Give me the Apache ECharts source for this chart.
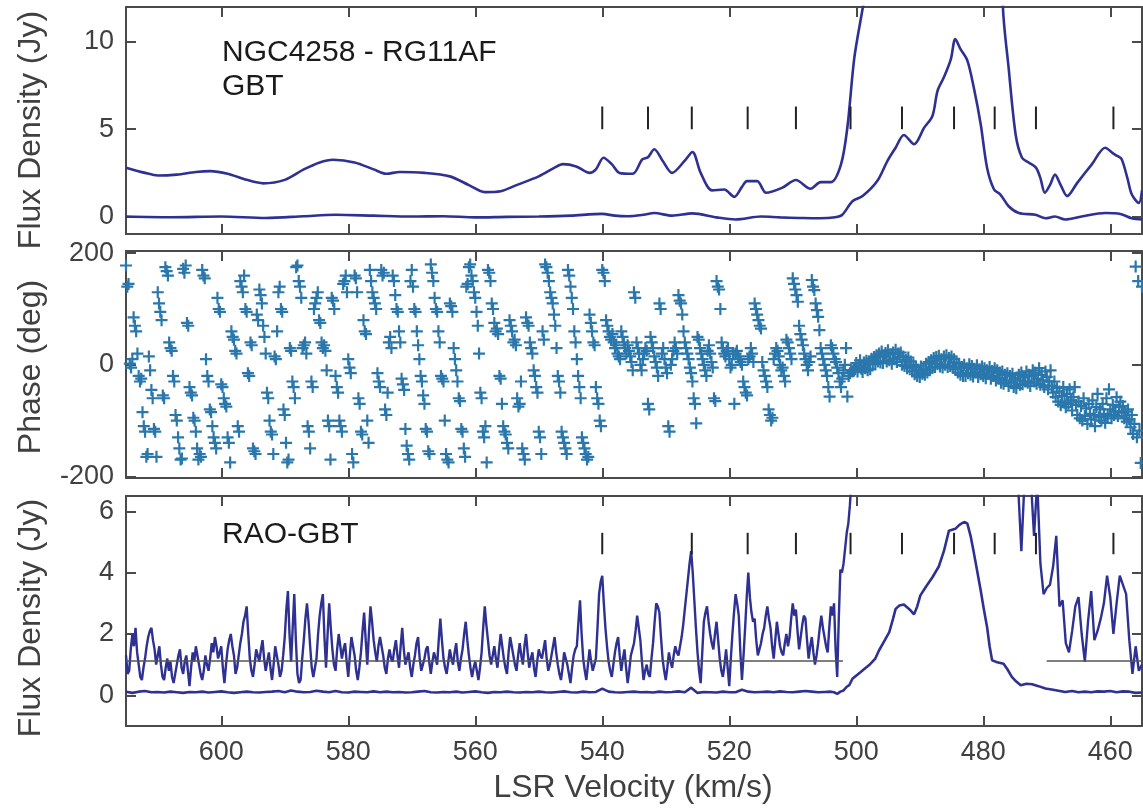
<!DOCTYPE html>
<html><head><meta charset="utf-8">
<script src="https://cdn.jsdelivr.net/npm/echarts@6/dist/echarts.min.js"></script>
<style>html,body{margin:0;padding:0;background:#fff}#c{width:1143px;height:809px}</style>
</head><body><div id="c"></div>
<script>
// ---------- DATA ----------
const X_TICKS = [460, 480, 500, 520, 540, 560, 580, 600];
const P1_Y_TICKS = [0, 5, 10];
const P2_Y_TICKS = [-200, 0, 200];
const P3_Y_TICKS = [0, 2, 4, 6];

// Panel 1 (GBT): upper (scaled) spectrum
const P1_UP_V = [615,612,610,607,604,601.7,599,596,593.4,590,587,584.5,582.4,579,576,574,571.9,568,564,561,558.5,556,553.5,550,547.5,546.2,544.1,542,541,539.8,538.5,537.3,535.2,533.7,532.8,531.8,530.5,529,527,525.8,524.5,522.7,520.8,519.2,518,517.2,515.6,514.2,511.7,509.5,507.2,505.6,504,502.4,501.4,500.3,499,498,496,494,492,490,488,486,484,482,480,478,476.9,476,474.9,473.9,472.8,471.7,471,470.3,469.5,468.7,467.8,466.8,465.2,462.9,460.8,459.5,458.9,458.2,457.3,456.6,455.5,455];
const P1_UP_Y = [2.8,2.5,2.35,2.4,2.55,2.6,2.45,2.1,1.9,2.1,2.7,3.1,3.25,3.1,2.7,2.45,2.55,2.5,2.3,1.8,1.4,1.45,1.8,2.3,2.8,3.0,2.87,2.5,2.7,3.37,3.0,2.5,2.45,3.27,3.4,3.85,3.2,2.5,3.2,3.7,2.5,1.5,1.55,1.13,1.7,2.03,2.03,1.36,1.64,2.09,1.59,1.97,1.97,2.99,5.1,9.1,11.9,14,20,30,40,50,60,70,80,70,55,30,12.0,8.5,4.7,3.37,3.08,2.8,2.2,1.36,1.8,2.4,1.8,1.17,1.93,2.99,3.94,3.6,3.47,3.28,2.2,1.26,0.78,1.5];
// Panel 1 (GBT): spectrum
const P1_LOW_V = [615,608,600,593,587,582,576,570,565,560,555,550,545,540,538,536,533.5,531.8,529,525.8,522,519,515,512,509,505.8,503.3,502.2,500.6,499,496.7,495.1,493.8,492.5,490.9,489.3,488,487.2,486.2,485.1,484.4,483.6,482.5,481.5,480.4,479.4,478.3,477.3,476,474.4,471.8,470.2,468.7,467.1,464.5,460.8,458.4,456.6,455];
const P1_LOW_Y = [0.0,-0.04,0.0,-0.08,0.02,0.1,0.05,0.0,0.02,-0.05,-0.02,0.0,0.05,0.15,0.05,0.02,0.1,0.2,0.05,0.18,-0.05,-0.17,0.0,-0.05,-0.08,-0.1,-0.04,0.1,0.88,1.17,2.03,3.18,3.94,4.67,4.14,5.09,5.76,7.2,7.97,9.02,10.17,9.6,8.93,7.4,5.29,2.8,1.55,1.26,0.59,0.2,0.1,-0.1,0.0,-0.17,0.0,0.2,0.15,-0.1,-0.17];
// Velocity markers
const P1_MARKS_V = [540,532.8,525.9,517.1,509.5,500.9,492.8,484.6,478.2,471.7,459.5];
const P1_MARK_RANGE = [5.0, 6.3];
const P3_MARKS_V = [540,525.9,517.1,509.5,500.9,492.8,484.6,478.2,471.7,459.5];
const P3_MARK_RANGE = [4.6, 5.3];

// Panel 2 phase (deg): channels from 615 km/s, 0.2 km/s apart
const P2_A_START = 615, P2_A_STEP = 0.2;
const P2_A = [
178,140,145,2,-5,10,85,70,60,20,-20,-30,-25,-85,-110,
-120,-165,-160,15,-10,-45,-60,-115,-120,-165,130,110,95,80,-55,
-60,175,168,160,40,30,25,-20,-30,-90,-100,-130,-150,-170,-168,
172,165,178,75,70,-40,-50,-55,-95,-100,-120,-150,-170,-160,-165,
170,160,155,10,-20,-30,-80,-85,-110,-130,-140,-150,120,100,95,
-35,-40,-60,-70,-75,-130,-140,-175,60,50,45,25,20,-110,-120,
150,140,130,160,100,95,-15,-20,40,35,-150,-155,-160,90,80,
135,125,110,70,50,20,-50,-60,-100,-120,-125,-160,15,10,60,
130,140,100,95,-80,-90,-140,-175,-170,30,25,-30,-40,-60,175,
178,150,140,120,30,35,40,20,-110,-120,-150,-30,-40,100,110,
120,130,80,75,40,30,35,25,-10,-100,-110,-170,120,115,100,
-20,-40,-50,-100,-110,-120,145,150,160,130,10,-5,-15,-160,-175,
160,155,130,-60,-70,-120,-125,80,60,55,-100,-140,170,150,130,
120,110,100,-15,-30,-40,170,160,165,-80,-90,-50,40,50,30,
160,150,125,100,95,60,40,-25,-35,-45,-115,-145,-160,-170,150,
170,140,100,95,60,35,10,-20,-30,-55,-70,-115,-120,-155,-160,
180,165,150,120,100,95,60,40,-20,-25,-30,-100,-160,-170,-175,
110,105,95,30,10,-10,-30,-60,-65,-115,-120,-150,-165,140,145,
175,180,160,150,130,120,95,70,20,-50,-60,-120,-130,-110,-175,
170,165,150,110,100,75,60,65,55,-20,-25,-70,-110,-120,-125,
-140,-150,80,70,60,40,45,35,-60,-75,-70,-30,-150,-160,-170,
85,75,70,40,30,20,-10,-20,-40,-50,-120,-130,-160,60,45,
180,175,165,150,130,120,110,90,70,30,-20,-30,-50,-120,-130,
-140,-150,-160,170,160,140,120,100,60,40,10,-20,-40,-60,-130,
-140,-150,-160,-170,-165,90,75,60,40,35,-40,-60,-70,-100,-110];
const P2_B_START = 540, P2_B_STEP = 0.2;
const P2_B = [
170,165,150,80,70,60,50,45,55,40,30,35,20,15,10,
60,50,40,30,20,35,25,15,5,-10,130,120,40,30,20,
0,-10,10,20,30,25,-70,-80,50,40,30,15,5,-5,-20,
110,100,20,30,10,-5,-15,-110,-120,0,10,25,40,30,20,
125,115,110,90,60,40,30,20,10,-5,-15,-30,-60,-70,-105,
50,45,30,20,10,0,-10,-20,25,35,20,5,-5,-60,-65,
150,140,135,100,40,30,20,15,25,30,10,-5,0,20,-70,
20,25,15,10,5,0,-30,-40,-50,-55,10,15,30,20,5,
110,100,90,80,70,65,5,-10,-20,-30,-40,-80,-90,-100,-95,
10,20,30,25,15,0,-10,-5,-20,-30,45,40,30,20,10,
155,145,135,125,113,70,55,45,35,20,10,0,-10,5,15,
152,140,134,110,98,86,62,30,20,10,0,-10,-20,-40,-57,
35,30,20,10,5,-5,-15,-30,-40,-25,-10,0,30,-57,-20,
-15,-10,-12,-10,-8];
const P2_C_START = 500, P2_C_STEP = 0.2;
const P2_C = [
3,-12,-1,8,-7, -13,4,-6,7,-10, 6,-8,11,2,14, 1,17,6,20,4, 24,3,15,21,6,
26,8,19,2,22, 10,27,5,20,14, 22,0,15,-2,9, -6,13,-4,6,-12, 0,-17,-4,-20,-9,
-22,-3,-16,-8,-18, 2,-14,5,-10,8, -5,12,-4,14,1, 16,-3,10,-5,15, 0,17,-4,12,-2,
15,-5,10,-8,4, -14,2,-18,-4,-20, 0,-20,-6,-15,1, -18,-2,-21,-7,-14, -1,-22,-8,-17,-3,
-20,-6,-24,-10,-16, -4,-25,-11,-20,-6, -28,-10,-24,-14,-32, -12,-34,-18,-28,-15, -38,-20,-32,-16,-40,
-24,-42,-28,-18,-36, -14,-35,-22,-30,-12, -32,-18,-38,-20,-10, -30,-14,-34,-25,-6, -36,-18,-28,-40,-12,
-22,-44,-30,-10,-38, -50,-30,-58,-42,-66, -48,-72,-56,-40,-68, -76,-52,-70,-44,-64, -82,-58,-40,-72,-90,
-66,-96,-74,-100,-60, -92,-78,-106,-70,-88, -98,-64,-90,-110,-76, -52,-94,-80,-100,-70, -88,-104,-60,-92,-44,
-80,-96,-72,-90,-84, -58,-92,-76,-66,-86, -74,-96,-84,-102,-80, -98,-112,-90,-124,-106, 176,-130,150,-118,-176,
140];

// Panel 3 (RAO-GBT): scaled noisy spectrum
// part A: channels from 615 km/s, 0.25 km/s apart (to 500.75)
const P3_UP_A_START = 615, P3_UP_A_STEP = 0.25;
const P3_UP_A = [
1.3,0.7,0.8,1.5,2.0,1.6,2.2,1.4,1.0,0.6,0.5,0.9,1.2,1.6,1.9,2.1,2.2,1.8,1.5,1.0,
1.3,1.6,1.0,0.6,0.5,0.9,1.2,0.8,1.1,0.6,0.4,0.7,1.0,1.3,1.5,0.9,0.7,1.1,1.3,0.8,
0.3,0.9,1.4,1.1,1.6,1.3,1.0,0.7,0.5,0.8,1.3,1.0,0.8,1.2,1.7,1.4,1.9,1.6,1.2,1.4,
1.6,0.9,0.4,1.0,1.5,1.8,2.0,1.6,1.3,0.7,0.9,1.3,1.7,2.0,2.4,2.6,2.9,2.0,1.2,0.8,
0.6,1.0,1.5,1.3,1.1,1.5,1.8,1.2,0.8,1.1,1.4,0.9,0.5,1.0,1.6,1.3,1.0,0.6,0.8,1.3,
1.9,2.8,3.4,2.0,1.1,2.2,3.3,1.8,0.7,0.4,0.5,1.2,1.8,2.5,3.0,2.4,1.6,0.9,0.6,0.9,
1.2,2.0,2.6,3.0,3.3,1.9,0.9,2.0,3.0,2.2,1.5,1.0,0.8,1.5,2.0,1.6,1.2,1.5,1.7,1.1,
0.6,1.3,1.9,1.6,1.3,0.8,0.5,0.9,1.4,2.1,2.7,1.8,1.0,2.0,2.9,2.4,1.8,1.4,1.1,1.6,
1.9,1.6,1.3,0.9,0.7,1.2,1.5,1.2,1.1,1.5,1.8,1.3,0.9,1.6,2.2,1.5,1.0,1.2,1.4,0.9,
0.6,1.0,1.3,1.7,1.9,1.2,0.8,1.0,1.2,1.5,1.6,1.1,0.7,1.1,1.4,1.2,1.0,1.8,2.5,1.8,
1.2,0.9,0.7,1.1,1.5,1.2,1.0,1.4,1.7,1.1,0.8,1.2,1.5,2.0,2.4,1.8,1.3,0.9,0.6,0.9,
1.1,0.8,0.5,0.9,1.4,2.2,2.9,2.3,1.8,1.3,1.0,1.3,1.6,1.2,0.9,1.5,2.0,1.6,1.2,0.9,
0.7,1.4,1.9,1.6,1.3,1.0,0.8,1.3,1.7,1.3,1.0,1.6,2.0,1.4,0.9,1.2,1.4,0.9,0.6,1.1,
1.5,1.3,1.2,1.5,1.8,1.2,0.8,1.0,1.3,1.6,1.9,1.4,1.0,0.7,0.5,0.9,1.4,1.2,1.0,0.7,
0.4,0.9,1.3,1.5,1.6,2.4,3.1,2.0,1.2,0.8,0.5,1.0,1.5,1.1,0.8,1.0,1.2,2.2,3.3,3.7,
3.9,3.0,2.2,1.6,1.1,0.8,0.6,1.0,1.4,1.7,1.9,1.3,0.8,1.2,1.5,0.9,0.4,0.8,1.3,1.5,
1.7,2.1,2.6,2.2,1.8,1.1,0.5,0.8,1.0,0.7,0.6,1.2,1.7,2.4,3.0,2.9,2.7,1.9,1.2,0.8,
0.5,0.9,1.4,1.1,0.9,1.3,1.6,1.4,1.3,1.6,1.9,2.3,2.8,3.3,3.8,4.3,4.7,4.0,3.1,2.2,
1.4,0.8,0.4,1.4,2.4,2.7,2.9,2.4,2.0,1.7,1.5,2.0,2.4,1.8,1.2,0.8,0.6,1.0,1.5,0.9,
0.3,1.2,2.0,2.7,3.3,3.0,2.6,1.4,0.5,1.3,2.2,3.2,4.0,3.2,2.7,2.4,2.5,1.8,1.3,1.5,
1.7,2.0,2.2,2.6,2.9,2.5,2.2,1.6,1.2,1.8,2.4,2.0,1.6,1.4,1.3,1.7,2.0,1.6,1.9,2.5,
3.0,2.6,2.8,2.1,1.5,1.9,2.3,2.6,2.5,1.8,1.2,1.6,1.9,1.4,1.0,1.3,1.7,2.2,2.6,2.2,
1.9,1.6,1.4,2.2,2.9,2.6,3.0,1.5,0.6,2.5,4.1,4.0,4.3,4.8,5.3,5.6,6.2,7.0];
// part B: channels from 500.5 km/s, 0.5 km/s apart
const P3_UP_B_START = 500.5, P3_UP_B_STEP = 0.5;
const P3_UP_B = [
8.0,
10,12,15,18,22,26,30,34,38,42,
46,50,54,58,62,66,70,74,78,82,
86,90,94,98,100,100,100,100,100,100,
100,100,100,100,100,100,100,100,95,90,
80,70,55,40,30,20,15,12,10,8.5,
7.5,6.8,4.7,7.0,8.0,7.0,5.2,7.0,4.3,3.3,
3.5,3.6,4.2,5.2,2.9,3.1,1.7,1.4,2.1,2.9,
3.2,2.0,1.1,2.4,3.4,1.8,2.1,2.5,3.0,3.9,
3.2,2.0,3.0,3.9,3.6,3.3,1.8,0.7,1.6,0.8,
1.0];
// Panel 3 spectrum: baseline channels 615..504 (1 km/s), then line profile points
const P3_LOW_START = 615, P3_LOW_STEP = 1;
const P3_LOW_FLAT = [
0.12,0.08,0.12,0.14,0.1,0.11,0.09,0.12,0.1,0.08,
0.11,0.1,0.12,0.09,0.11,0.13,0.1,0.08,0.1,0.12,
0.1,0.09,0.11,0.12,0.14,0.1,0.16,0.12,0.1,0.11,
0.15,0.12,0.1,0.14,0.1,0.09,0.12,0.11,0.1,0.13,
0.1,0.12,0.1,0.11,0.09,0.1,0.12,0.14,0.1,0.09,
0.11,0.1,0.12,0.09,0.11,0.13,0.1,0.08,0.11,0.1,
0.12,0.1,0.09,0.11,0.1,0.12,0.1,0.09,0.11,0.13,
0.1,0.09,0.12,0.1,0.11,0.22,0.12,0.1,0.09,0.11,
0.12,0.1,0.11,0.09,0.12,0.1,0.11,0.13,0.1,0.25,
0.08,0.11,0.1,0.09,0.12,0.1,0.1,0.18,0.12,0.1,
0.11,0.12,0.1,0.13,0.11,0.1,0.12,0.14,0.12,0.1,
0.11,0.12];
const P3_LOW_PEAK_V = [503.5,503,502.5,502,501.5,501.1,500.6,499.3,498.5,498,497,496.4,495.5,494.8,494.2,493.8,493.2,492.5,491.6,490.9,490.4,489.9,489,488,487,486.2,485.4,484.9,484.4,483.8,483.3,482.9,482.5,482,481.5,481,480.4,479.9,479.4,479,478.6,477.8,476.8,476.2,475.5,474.8,474.1,473.2,472.3,471.3,470.2,469,467.1,466,465,464,463,462,461,460,459,458,457,456,455];
const P3_LOW_PEAK_Y = [0.1,0.05,0.12,0.16,0.28,0.33,0.54,0.76,0.9,0.98,1.2,1.47,1.8,2.06,2.5,2.82,2.93,2.96,2.8,2.64,2.9,3.26,3.55,3.85,4.2,4.7,5.37,5.4,5.43,5.55,5.62,5.65,5.6,5.2,4.67,4.1,3.42,2.8,2.23,1.6,1.14,1.08,1.03,0.85,0.6,0.45,0.33,0.38,0.36,0.3,0.22,0.18,0.11,0.14,0.1,0.12,0.1,0.13,0.12,0.14,0.1,0.13,0.12,0.08,0.09];
// Reference level lines in panel 3
const P3_REF_LEVEL = 1.12;
const P3_REF_SEGMENTS = [[615, 502.1], [470, 455]];

// ---------- STYLE ----------
const FONT = '"Liberation Sans", Arial, Helvetica, sans-serif';
const AXC = '#4a4a4a', TXC = '#404040', LINEC = '#2e3192', PTC = '#2a77ac';
const PLUS = 'path://M4.9,0H7.1V4.9H12V7.1H7.1V12H4.9V7.1H0V4.9H4.9Z';

function seq(start, step, vals) { return vals.map((y, i) => [+(start - i * step).toFixed(3), y]); }
function pairs(V, Y) { return V.map((v, i) => [v, Y[i]]); }

function xAx(g, pos, labels) {
  return {
    type: 'value', gridIndex: g, position: pos, min: 455, max: 615, inverse: true,
    axisLine: { show: true, onZero: false, lineStyle: { color: AXC, width: 2 } },
    axisTick: { show: true, inside: true, length: 10, customValues: X_TICKS, lineStyle: { color: AXC, width: 2 } },
    axisLabel: { show: labels, customValues: X_TICKS, margin: 13, fontSize: 27, color: TXC, fontFamily: FONT },
    splitLine: { show: false }
  };
}
function yAx(g, pos, labels, min, max, ticks) {
  return {
    type: 'value', gridIndex: g, position: pos, min: min, max: max,
    axisLine: { show: true, onZero: false, lineStyle: { color: AXC, width: 2 } },
    axisTick: { show: true, inside: true, length: 10, customValues: ticks, lineStyle: { color: AXC, width: 2 } },
    axisLabel: { show: labels, customValues: ticks, margin: 12, fontSize: 27, color: TXC, fontFamily: FONT },
    splitLine: { show: false }
  };
}
function markRender(lo, hi) {
  return function (params, api) {
    const v = api.value(0);
    const a = api.coord([v, lo]);
    const b = api.coord([v, hi]);
    return { type: 'line', shape: { x1: a[0], y1: a[1], x2: b[0], y2: b[1] }, style: { stroke: '#222', lineWidth: 2 } };
  };
}

const p3up = seq(P3_UP_A_START, P3_UP_A_STEP, P3_UP_A).concat(seq(P3_UP_B_START, P3_UP_B_STEP, P3_UP_B));
const p3low = seq(P3_LOW_START, P3_LOW_STEP, P3_LOW_FLAT).concat(pairs(P3_LOW_PEAK_V, P3_LOW_PEAK_Y));
const p2pts = seq(P2_A_START, P2_A_STEP, P2_A).concat(seq(P2_B_START, P2_B_STEP, P2_B), seq(P2_C_START, P2_C_STEP, P2_C));

const option = {
  animation: false,
  backgroundColor: '#fff',
  grid: [
    { left: 126, top: 7, width: 1016, height: 227 },
    { left: 126, top: 251, width: 1016, height: 227 },
    { left: 126, top: 496, width: 1016, height: 230 }
  ],
  xAxis: [
    xAx(0, 'bottom', false), xAx(0, 'top', false),
    xAx(1, 'bottom', false), xAx(1, 'top', false),
    xAx(2, 'bottom', true), xAx(2, 'top', false)
  ],
  yAxis: [
    yAx(0, 'left', true, -1, 12, P1_Y_TICKS), yAx(0, 'right', false, -1, 12, P1_Y_TICKS),
    yAx(1, 'left', true, -203, 204, P2_Y_TICKS), yAx(1, 'right', false, -203, 204, P2_Y_TICKS),
    yAx(2, 'left', true, -1, 6.5, P3_Y_TICKS), yAx(2, 'right', false, -1, 6.5, P3_Y_TICKS)
  ],
  series: [
    { type: 'line', xAxisIndex: 0, yAxisIndex: 0, data: pairs(P1_UP_V, P1_UP_Y), smooth: 0.3, showSymbol: false, symbol: 'none', clip: true,
      lineStyle: { color: LINEC, width: 2.6 } },
    { type: 'line', xAxisIndex: 0, yAxisIndex: 0, data: pairs(P1_LOW_V, P1_LOW_Y), smooth: 0.3, showSymbol: false, symbol: 'none', clip: true,
      lineStyle: { color: LINEC, width: 2.6 } },
    { type: 'custom', xAxisIndex: 0, yAxisIndex: 0, data: P1_MARKS_V.map(v => [v]), renderItem: markRender(P1_MARK_RANGE[0], P1_MARK_RANGE[1]), z: 5 },
    { type: 'scatter', xAxisIndex: 2, yAxisIndex: 2, data: p2pts, symbol: PLUS, symbolSize: 12, clip: true,
      itemStyle: { color: PTC, opacity: 1 } },
    { type: 'line', xAxisIndex: 4, yAxisIndex: 4, data: p3up, showSymbol: false, symbol: 'none', clip: true,
      lineStyle: { color: LINEC, width: 2.4 } },
    { type: 'line', xAxisIndex: 4, yAxisIndex: 4, data: p3low, showSymbol: false, symbol: 'none', clip: true,
      lineStyle: { color: LINEC, width: 2.6 } },
    { type: 'line', xAxisIndex: 4, yAxisIndex: 4, data: [[P3_REF_SEGMENTS[0][0], P3_REF_LEVEL], [P3_REF_SEGMENTS[0][1], P3_REF_LEVEL]], showSymbol: false, symbol: 'none', z: 6,
      lineStyle: { color: '#555', width: 1.3 } },
    { type: 'line', xAxisIndex: 4, yAxisIndex: 4, data: [[P3_REF_SEGMENTS[1][0], P3_REF_LEVEL], [P3_REF_SEGMENTS[1][1], P3_REF_LEVEL]], showSymbol: false, symbol: 'none', z: 6,
      lineStyle: { color: '#555', width: 1.3 } },
    { type: 'custom', xAxisIndex: 4, yAxisIndex: 4, data: P3_MARKS_V.map(v => [v]), renderItem: markRender(P3_MARK_RANGE[0], P3_MARK_RANGE[1]), z: 5 }
  ],
  graphic: [
    { type: 'text', x: 222, y: 53, style: { text: 'NGC4258 - RG11AF', fontSize: 30, fontFamily: FONT, fill: '#1a1a1a', align: 'left', verticalAlign: 'middle' } },
    { type: 'text', x: 222, y: 87, style: { text: 'GBT', fontSize: 30, fontFamily: FONT, fill: '#1a1a1a', align: 'left', verticalAlign: 'middle' } },
    { type: 'text', x: 222, y: 535, style: { text: 'RAO-GBT', fontSize: 30, fontFamily: FONT, fill: '#1a1a1a', align: 'left', verticalAlign: 'middle' } },
    { type: 'text', x: 633, y: 788, style: { text: 'LSR Velocity (km/s)', fontSize: 32, fontFamily: FONT, fill: TXC, align: 'center', verticalAlign: 'middle' } },
    { type: 'text', x: 31, y: 130, rotation: Math.PI / 2, style: { text: 'Flux Density (Jy)', fontSize: 32, fontFamily: FONT, fill: TXC, align: 'center', verticalAlign: 'middle' } },
    { type: 'text', x: 31, y: 367, rotation: Math.PI / 2, style: { text: 'Phase (deg)', fontSize: 32, fontFamily: FONT, fill: TXC, align: 'center', verticalAlign: 'middle' } },
    { type: 'text', x: 31, y: 618, rotation: Math.PI / 2, style: { text: 'Flux Density (Jy)', fontSize: 32, fontFamily: FONT, fill: TXC, align: 'center', verticalAlign: 'middle' } }
  ]
};
const chart = echarts.init(document.getElementById('c'), null, { renderer: 'canvas' });
chart.setOption(option);
</script>
</body></html>
